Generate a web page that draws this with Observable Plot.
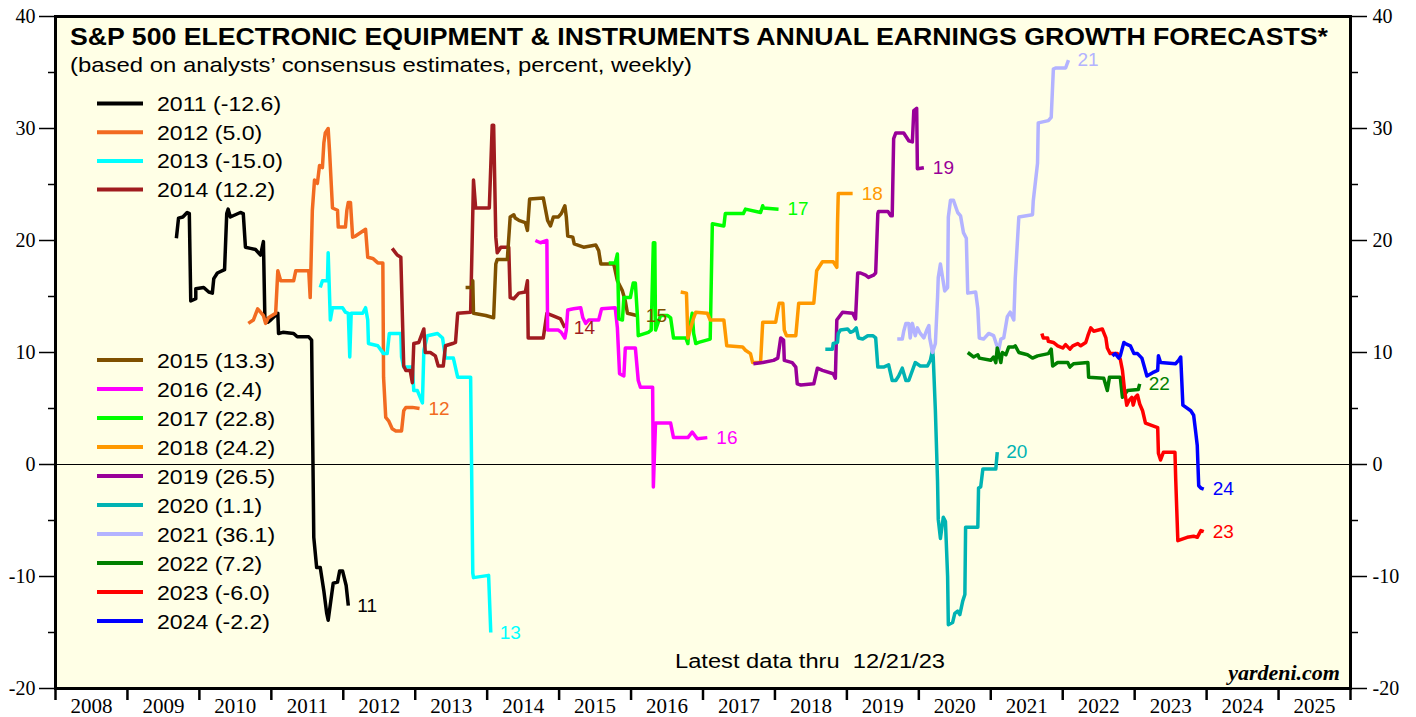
<!DOCTYPE html>
<html><head><meta charset="utf-8">
<script src="https://cdn.jsdelivr.net/npm/d3@7"></script>
<script src="https://cdn.jsdelivr.net/npm/@observablehq/plot@0.6"></script>
<style>body{margin:0;background:#fff}</style>
</head><body><div id="chart"></div>
<script>
const years = [2011,2012,2013,2014,2015,2016,2017,2018,2019,2020,2021,2022,2023,2024];
const colors = ["#000000","#F26B21","#00FFFF","#A01C1F","#7F5000","#FF00FF","#00FF00","#FF9900","#990099","#00B3B3","#B3B3FF","#008000","#FF0000","#0000FF"];
const finalValues = ["-12.6","5.0","-15.0","12.2","13.3","2.4","22.8","24.2","26.5","1.1","36.1","7.2","-6.0","-2.2"];

const s2011 = [[2009.68,20.2],[2009.71,22.0],[2009.77,22.1],[2009.83,22.5],[2009.86,22.4],[2009.88,14.6],[2009.95,14.8],[2009.95,15.7],[2010.06,15.8],[2010.13,15.4],[2010.18,15.3],[2010.20,16.6],[2010.25,17.1],[2010.35,17.4],[2010.38,22.4],[2010.40,22.8],[2010.43,22.1],[2010.57,22.5],[2010.61,22.4],[2010.64,19.4],[2010.71,19.3],[2010.78,19.2],[2010.85,18.7],[2010.89,19.9],[2010.91,13.1],[2010.95,12.7],[2010.99,12.9],[2011.09,13.5],[2011.10,11.7],[2011.16,11.8],[2011.31,11.7],[2011.36,11.4],[2011.52,11.4],[2011.56,11.1],[2011.59,-6.5],[2011.63,-9.2],[2011.68,-9.2],[2011.73,-11.3],[2011.77,-13.3],[2011.79,-13.9],[2011.86,-10.6],[2011.92,-10.5],[2011.95,-9.5],[2011.99,-9.5],[2012.04,-10.8],[2012.07,-12.6]];
const s2012 = [[2010.68,12.6],[2010.75,12.9],[2010.81,13.9],[2010.85,13.6],[2010.89,13.3],[2010.92,12.6],[2010.96,13.1],[2011.06,13.5],[2011.09,17.3],[2011.13,16.4],[2011.31,16.4],[2011.34,17.3],[2011.52,17.3],[2011.54,14.9],[2011.57,22.7],[2011.60,25.4],[2011.64,25.1],[2011.67,26.7],[2011.71,26.5],[2011.73,28.7],[2011.75,29.6],[2011.79,30.0],[2011.81,27.9],[2011.85,22.9],[2011.92,22.7],[2011.93,21.2],[2012.03,21.2],[2012.05,22.7],[2012.07,23.4],[2012.10,23.4],[2012.13,20.3],[2012.17,20.4],[2012.31,21.0],[2012.34,18.5],[2012.41,18.4],[2012.48,18.0],[2012.55,18.0],[2012.56,7.8],[2012.59,4.2],[2012.63,3.9],[2012.68,3.2],[2012.73,3.0],[2012.81,3.0],[2012.84,4.8],[2012.87,5.1],[2012.96,5.1],[2013.06,5.0]];
const s2013 = [[2011.68,15.8],[2011.71,16.4],[2011.78,16.4],[2011.79,18.9],[2011.82,12.9],[2011.85,14.0],[2011.99,14.0],[2012.03,13.6],[2012.07,13.5],[2012.09,9.6],[2012.11,13.5],[2012.27,13.5],[2012.31,14.0],[2012.34,12.9],[2012.35,10.8],[2012.48,10.6],[2012.56,9.9],[2012.61,9.9],[2012.64,11.7],[2012.80,11.7],[2012.81,9.6],[2012.84,8.7],[2012.96,8.7],[2012.98,6.6],[2013.03,6.6],[2013.10,5.5],[2013.12,10.2],[2013.17,11.5],[2013.31,11.7],[2013.38,11.3],[2013.42,9.5],[2013.53,9.5],[2013.59,7.8],[2013.77,7.8],[2013.80,-9.7],[2013.81,-10.1],[2014.02,-9.9],[2014.05,-15.0]];
const s2014 = [[2012.68,19.3],[2012.75,18.7],[2012.80,18.5],[2012.84,8.8],[2012.87,8.4],[2012.93,8.4],[2012.96,7.3],[2012.98,10.8],[2013.05,10.9],[2013.12,12.1],[2013.14,10.0],[2013.21,10.0],[2013.28,9.7],[2013.32,8.8],[2013.39,8.8],[2013.42,10.6],[2013.52,10.8],[2013.56,10.9],[2013.59,13.5],[2013.77,13.6],[2013.81,25.4],[2013.84,22.9],[2013.98,22.9],[2014.03,22.9],[2014.07,30.3],[2014.09,30.3],[2014.12,20.3],[2014.14,18.9],[2014.19,19.4],[2014.30,19.4],[2014.32,14.9],[2014.37,14.8],[2014.44,15.3],[2014.53,15.4],[2014.56,16.4],[2014.57,11.3],[2014.78,11.3],[2014.83,13.5],[2014.91,13.3],[2015.02,13.0],[2015.08,12.2]];
const s2015 = [[2013.70,15.8],[2013.80,15.8],[2013.80,16.4],[2013.81,13.5],[2013.98,13.3],[2014.09,13.1],[2014.12,17.9],[2014.14,18.3],[2014.28,18.3],[2014.32,22.1],[2014.37,22.3],[2014.39,22.0],[2014.44,21.8],[2014.53,21.6],[2014.56,20.9],[2014.59,23.7],[2014.78,23.8],[2014.84,21.8],[2014.88,21.3],[2014.92,22.1],[2014.99,22.1],[2015.03,22.4],[2015.08,23.1],[2015.10,22.1],[2015.12,20.4],[2015.19,20.3],[2015.21,19.7],[2015.34,19.4],[2015.51,19.6],[2015.55,19.1],[2015.58,17.9],[2015.76,17.9],[2015.81,16.4],[2015.88,15.5],[2015.92,14.6],[2015.95,13.5],[2016.08,13.3]];
const s2016 = [[2014.67,20.0],[2014.74,19.8],[2014.83,20.0],[2014.84,12.0],[2014.99,12.0],[2015.03,11.8],[2015.08,11.3],[2015.10,12.0],[2015.12,13.8],[2015.20,13.9],[2015.30,14.0],[2015.33,13.1],[2015.37,12.6],[2015.41,12.9],[2015.55,12.9],[2015.59,13.9],[2015.78,14.0],[2015.81,12.2],[2015.84,8.1],[2015.90,7.9],[2015.92,10.4],[2016.06,10.4],[2016.10,7.5],[2016.13,6.9],[2016.30,6.9],[2016.31,-2.0],[2016.34,3.7],[2016.55,3.7],[2016.59,2.4],[2016.79,2.4],[2016.85,2.9],[2016.92,2.3],[2017.06,2.4]];
const s2017 = [[2015.69,18.0],[2015.78,18.0],[2015.81,18.8],[2015.83,13.0],[2015.88,12.9],[2015.90,14.9],[2015.99,14.9],[2016.03,16.2],[2016.06,16.2],[2016.09,13.1],[2016.10,11.5],[2016.24,11.8],[2016.28,12.0],[2016.31,19.8],[2016.33,19.8],[2016.34,12.0],[2016.41,13.3],[2016.51,13.3],[2016.55,13.1],[2016.59,11.3],[2016.76,11.3],[2016.79,10.8],[2016.80,11.7],[2016.85,13.5],[2016.87,11.7],[2016.90,10.8],[2016.94,10.9],[2017.10,11.2],[2017.13,21.5],[2017.29,21.3],[2017.31,22.4],[2017.56,22.4],[2017.59,22.8],[2017.80,22.5],[2017.83,23.1],[2017.84,22.9],[2018.05,22.8]];
const s2018 = [[2016.69,15.4],[2016.77,15.3],[2016.79,11.3],[2016.86,12.9],[2016.90,13.6],[2017.06,13.5],[2017.10,12.9],[2017.29,12.9],[2017.33,10.6],[2017.55,10.5],[2017.59,10.2],[2017.66,9.9],[2017.69,9.1],[2017.80,9.1],[2017.83,12.7],[2018.01,12.7],[2018.04,13.8],[2018.06,14.4],[2018.11,14.4],[2018.13,12.0],[2018.16,11.5],[2018.29,11.5],[2018.33,14.4],[2018.54,14.4],[2018.58,17.3],[2018.66,18.1],[2018.81,18.1],[2018.86,17.6],[2018.87,21.6],[2018.88,24.2],[2019.08,24.2]];
const s2019 = [[2017.70,9.0],[2017.83,9.1],[2017.98,9.3],[2018.04,9.5],[2018.08,11.3],[2018.12,11.1],[2018.13,9.3],[2018.24,9.1],[2018.29,8.7],[2018.31,7.2],[2018.36,7.1],[2018.54,7.2],[2018.59,8.6],[2018.66,8.4],[2018.81,8.1],[2018.84,7.7],[2018.86,12.9],[2018.94,13.6],[2019.08,13.5],[2019.12,13.0],[2019.15,17.1],[2019.19,17.1],[2019.26,16.9],[2019.30,16.7],[2019.37,16.9],[2019.40,17.1],[2019.43,22.4],[2019.44,22.6],[2019.57,22.6],[2019.61,22.2],[2019.63,22.2],[2019.65,29.1],[2019.68,29.6],[2019.79,29.6],[2019.86,28.9],[2019.91,28.8],[2019.93,31.6],[2019.97,31.8],[2019.98,26.4],[2020.07,26.5]];
const s2020 = [[2018.70,10.3],[2018.80,10.3],[2018.81,10.8],[2018.87,10.9],[2018.88,11.7],[2018.91,12.0],[2019.01,12.1],[2019.05,11.8],[2019.09,11.9],[2019.13,12.2],[2019.16,11.3],[2019.22,11.2],[2019.29,11.5],[2019.36,11.5],[2019.40,11.3],[2019.43,8.7],[2019.51,8.7],[2019.58,8.9],[2019.63,7.5],[2019.68,7.5],[2019.72,7.9],[2019.77,8.6],[2019.82,7.5],[2019.86,7.5],[2019.95,9.1],[2020.02,8.8],[2020.12,8.8],[2020.16,9.3],[2020.19,10.2],[2020.20,9.6],[2020.23,4.8],[2020.26,-1.5],[2020.27,-4.9],[2020.30,-6.6],[2020.34,-4.7],[2020.37,-5.1],[2020.40,-10.0],[2020.41,-14.3],[2020.47,-14.1],[2020.50,-13.3],[2020.54,-13.1],[2020.57,-13.4],[2020.61,-12.2],[2020.64,-11.6],[2020.65,-5.6],[2020.82,-5.6],[2020.83,-2.1],[2020.86,-2.0],[2020.89,-0.4],[2021.07,-0.4],[2021.09,1.1]];
const s2021 = [[2019.70,11.2],[2019.77,11.2],[2019.79,11.9],[2019.82,12.6],[2019.86,12.6],[2019.88,11.3],[2019.91,12.6],[2019.95,11.5],[2019.98,12.2],[2020.02,11.7],[2020.07,11.3],[2020.11,12.0],[2020.14,12.4],[2020.15,11.3],[2020.19,10.0],[2020.23,10.8],[2020.26,14.9],[2020.27,16.7],[2020.30,17.9],[2020.33,16.7],[2020.36,15.5],[2020.40,15.8],[2020.41,22.1],[2020.44,23.6],[2020.48,23.6],[2020.54,22.5],[2020.58,22.2],[2020.62,20.7],[2020.66,20.2],[2020.68,15.3],[2020.79,15.4],[2020.82,13.9],[2020.84,11.3],[2020.90,11.2],[2020.97,11.7],[2021.04,11.5],[2021.09,10.5],[2021.11,10.2],[2021.14,11.2],[2021.18,11.3],[2021.23,13.2],[2021.27,13.6],[2021.32,12.9],[2021.34,16.6],[2021.39,22.1],[2021.58,22.3],[2021.59,23.5],[2021.65,26.9],[2021.66,30.5],[2021.80,30.7],[2021.84,31.0],[2021.87,35.3],[2021.90,35.4],[2022.04,35.4],[2022.08,36.1]];
const s2022 = [[2020.68,10.0],[2020.76,9.6],[2020.82,9.8],[2020.84,9.5],[2021.00,9.3],[2021.04,9.6],[2021.07,9.1],[2021.09,10.4],[2021.14,9.1],[2021.16,10.0],[2021.21,9.8],[2021.25,10.5],[2021.32,10.5],[2021.34,10.6],[2021.39,10.0],[2021.51,9.8],[2021.58,9.5],[2021.65,9.7],[2021.80,9.9],[2021.84,10.3],[2021.86,8.8],[2021.93,9.1],[2022.07,9.1],[2022.10,8.7],[2022.15,9.0],[2022.35,9.1],[2022.36,7.8],[2022.57,7.7],[2022.62,6.6],[2022.65,7.8],[2022.80,7.8],[2022.83,6.0],[2022.90,6.6],[2023.05,6.7],[2023.07,7.2]];
const s2023 = [[2021.71,11.7],[2021.73,11.3],[2021.79,11.3],[2021.80,11.0],[2021.87,10.9],[2021.93,10.6],[2022.00,10.4],[2022.04,10.7],[2022.10,10.3],[2022.14,10.6],[2022.21,10.8],[2022.25,10.6],[2022.32,10.9],[2022.35,11.5],[2022.39,12.2],[2022.43,11.9],[2022.55,12.1],[2022.60,11.3],[2022.62,10.4],[2022.66,9.9],[2022.76,9.9],[2022.80,9.4],[2022.83,8.4],[2022.86,6.6],[2022.89,5.3],[2022.92,5.7],[2022.96,6.0],[2022.98,5.3],[2023.01,6.0],[2023.04,6.2],[2023.07,5.4],[2023.11,4.8],[2023.15,3.7],[2023.32,3.3],[2023.33,1.0],[2023.36,0.4],[2023.40,1.1],[2023.56,1.1],[2023.57,-1.2],[2023.60,-6.8],[2023.73,-6.5],[2023.82,-6.4],[2023.87,-6.5],[2023.92,-5.9],[2023.96,-6.0]];
const s2024 = [[2022.69,9.7],[2022.73,9.9],[2022.78,9.5],[2022.80,9.7],[2022.85,10.9],[2022.87,10.8],[2022.94,10.6],[2022.99,9.9],[2023.04,9.9],[2023.10,9.5],[2023.14,8.6],[2023.17,7.9],[2023.25,8.2],[2023.32,8.4],[2023.33,9.7],[2023.36,9.1],[2023.57,9.0],[2023.61,9.3],[2023.64,9.6],[2023.67,5.3],[2023.78,4.8],[2023.82,4.4],[2023.85,2.8],[2023.87,1.7],[2023.89,-1.9],[2023.92,-2.1],[2023.96,-2.2]];

const yearTicks = d3.range(2008, 2027);
const yearLabels = d3.range(2008, 2026);
const yMajor = [-20,-10,0,10,20,30,40];
const yMinor = [-15,-5,5,15,25,35];

const titleText = "S&P 500 ELECTRONIC EQUIPMENT & INSTRUMENTS ANNUAL EARNINGS GROWTH FORECASTS*";
const subtitleText = "(based on analysts\u2019 consensus estimates, percent, weekly)";
const noteText = "Latest data thru  12/21/23";
const sourceText = "yardeni.com";

const series = [s2011,s2012,s2013,s2014,s2015,s2016,s2017,s2018,s2019,s2020,s2021,s2022,s2023,s2024];
const rows = series.flatMap((pts, i) => pts.map(([x, y]) => ({year: years[i], x, y})));
const lastPts = series.map((pts, i) => ({year: years[i], x: pts[pts.length-1][0], y: pts[pts.length-1][1], label: String(years[i]).slice(2)}));

const SANS = "Liberation Sans, Arial, sans-serif";
const SERIF = "Liberation Serif, Times New Roman, serif";

const W = 1416, H = 717;
const plot = Plot.plot({
  width: W, height: H,
  marginLeft: 55, marginRight: 66, marginTop: 16, marginBottom: 29,
  style: {background: "#ffffff", fontFamily: SERIF, fontSize: "20px", color: "black"},
  x: {domain: [2008, 2026], axis: null, label: null},
  y: {domain: [-20, 40], axis: null, label: null},
  color: {type: "ordinal", domain: years, range: colors},
  marks: [
    Plot.frame({fill: "#FFFFE6"}),
    Plot.ruleY([0], {stroke: "black", strokeWidth: 1}),
    Plot.line(rows, {x: "x", y: "y", z: "year", stroke: "year", strokeWidth: 3.5, strokeLinejoin: "round", strokeLinecap: "butt"}),
    Plot.text(lastPts, {x: "x", y: "y", text: "label", fill: "year", textAnchor: "start", dx: 9, fontSize: 19, fontFamily: SANS}),
    Plot.axisY(yMajor, {anchor: "left", tickSize: 16, tickPadding: 4, strokeWidth: 1.5, fontSize: 20, fontFamily: SERIF, tickFormat: d => String(d), label: null}),
    Plot.axisY(yMinor, {anchor: "left", tickSize: 7, tickFormat: () => "", strokeWidth: 1.5, label: null}),
    Plot.axisY(yMajor, {anchor: "right", tickSize: 16, tickPadding: 6, strokeWidth: 1.5, fontSize: 20, fontFamily: SERIF, tickFormat: d => String(d), label: null}),
    Plot.axisY(yMinor, {anchor: "right", tickSize: 7, tickFormat: () => "", strokeWidth: 1.5, label: null}),
    Plot.axisX(yearTicks, {anchor: "bottom", tickSize: 12, tickFormat: () => "", strokeWidth: 2.5, label: null}),
    Plot.axisX(yearLabels.map(y => y + 0.5), {anchor: "bottom", tickSize: 0, tickPadding: 10, tickFormat: d => String(Math.floor(d)), fontSize: 21, fontFamily: SERIF, label: null}),
    Plot.frame({stroke: "black", strokeWidth: 3})
  ]
});
document.getElementById("chart").append(plot);

const svg = d3.select(plot);
function addText(parent, x, y, str, opts) {
  const t = parent.append("text").attr("x", x).attr("y", y)
    .attr("text-anchor", opts.anchor || "start")
    .attr("font-family", opts.family || SANS)
    .attr("font-size", opts.size)
    .attr("font-weight", opts.weight || "normal")
    .attr("font-style", opts.style || "normal")
    .attr("fill", "black")
    .style("white-space", "pre")
    .text(str);
  if (opts.dy) t.attr("dy", opts.dy);
  if (opts.width || opts.factor) {
    const natural = t.node().getComputedTextLength();
    const target = opts.width || natural * opts.factor;
    t.attr("textLength", target).attr("lengthAdjust", "spacingAndGlyphs");
  }
  return t;
}
const g = svg.append("g");
addText(g, 70, 45, titleText, {size: 24, weight: "bold", width: 1258});
addText(g, 70, 72, subtitleText, {size: 21, width: 622});
addText(g, 675, 668, noteText, {size: 20, width: 270});
addText(g, 1340, 680, sourceText, {size: 20, family: SERIF, weight: "bold", style: "italic", factor: 1.1, anchor: "end"});

const leg = svg.append("g");
years.forEach((yr, i) => {
  const cy = i < 4 ? 103.5 + i * 28.7 : 360 + (i - 4) * 29;
  leg.append("line").attr("x1", 97).attr("x2", 143).attr("y1", cy).attr("y2", cy).attr("stroke", colors[i]).attr("stroke-width", 4);
  addText(leg, 157, cy, `${yr} (${finalValues[i]})`, {size: 21, dy: "0.36em", factor: 1.1});
});
</script></body></html>
